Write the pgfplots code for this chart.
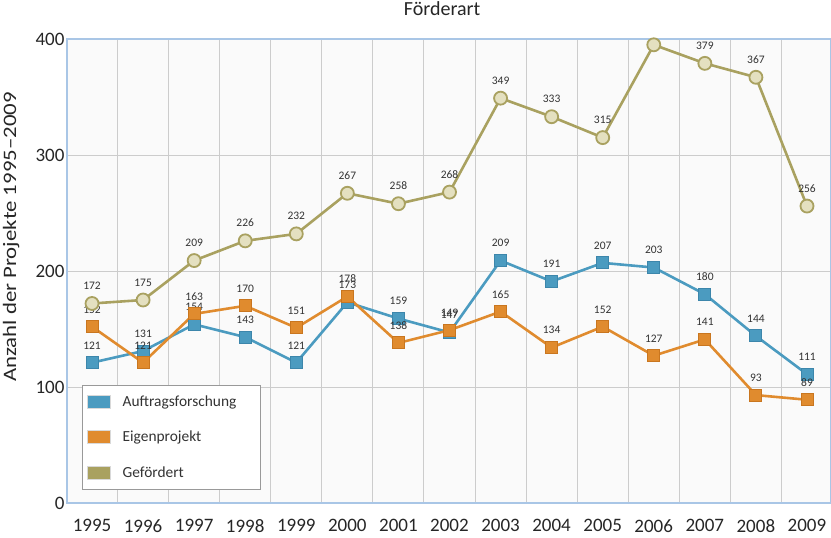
\documentclass[border=0pt]{standalone}
\usepackage{fontspec}
\setmainfont{Carlito}
\usepackage{graphicx}
\usepackage{pgfplots}
\pgfplotsset{compat=1.18}

\definecolor{auftrag}{HTML}{4B9BC0}
\definecolor{auftragdk}{HTML}{3C86AB}
\definecolor{eigen}{HTML}{E08B2E}
\definecolor{eigendk}{HTML}{C9761F}
\definecolor{gefoerd}{HTML}{A9A160}
\definecolor{gefoerdlt}{HTML}{E4E0C0}
\definecolor{frameblue}{HTML}{A9C6E6}

\begin{document}
\begin{tikzpicture}
\begin{axis}[
  name=ax,
  scale only axis,
  width=764pt, height=464pt,
  xmin=1994.51, xmax=2009.47,
  ymin=0, ymax=400,
  xtick={1995,...,2009},
  minor xtick={1995.5,1996.5,...,2008.5},
  ytick={0,100,...,400},
  xticklabel style={/pgf/number format/1000 sep=, yshift=-13pt},
  yticklabel style={xshift=1pt},
  ticklabel style={font=\fontsize{19}{22}\selectfont, text=black!85},
  /pgf/number format/assume math mode=true,
  major tick length=0pt, minor tick length=0pt,
  xminorgrids=true, ymajorgrids=true,
  grid style={color=black!20, line width=0.9pt},
  minor grid style={color=black!20, line width=0.9pt},
  axis line style={color=frameblue, line width=1.3pt},
  axis background/.style={fill=black!2},
  title={Förderart},
  title style={at={(axis description cs:0.491,1)}, anchor=base, yshift=17pt,
    font=\fontsize{20}{22}\selectfont, text=black!85},
  ylabel={\scalebox{1.2}[1]{Anzahl der Projekte 1995–2009}},
  ylabel style={at={(axis description cs:-0.073,0.573)}, anchor=center,
    font=\fontsize{19}{22}\selectfont, text=black!85},
  nodes near coords,
  nodes near coords style={font=\fontsize{11.5}{12}\selectfont, text=black!80,
    anchor=south, inner sep=0pt, yshift=13pt},
  legend style={at={(axis description cs:0.02,0.028)}, anchor=south west,
    draw=black!40, fill=white, line width=0.8pt,
    font=\fontsize{15.4}{17}\selectfont, text=black!80,
    row sep=19pt, inner xsep=4pt, inner ysep=9pt,
    /tikz/every odd column/.append style={column sep=10pt}},
  legend cell align=left,
]
\addplot[color=auftrag, line width=2.6pt, mark=square*, mark size=6pt,
  mark options={fill=auftrag, draw=auftragdk, line width=1pt},
  legend image code/.code={\draw[draw=black!15, fill=auftrag, line width=1pt] (0pt,-6.5pt) rectangle (23pt,6.5pt);}]
coordinates {
  (1995,121) (1996,131) (1997,154) (1998,143) (1999,121)
  (2000,173) (2001,159) (2002,147) (2003,209) (2004,191)
  (2005,207) (2006,203) (2007,180) (2008,144) (2009,111)
};
\addlegendentry{\makebox[132pt][l]{Auftragsforschung}}

\addplot[color=eigen, line width=2.6pt, mark=square*, mark size=6pt,
  mark options={fill=eigen, draw=eigendk, line width=1pt},
  legend image code/.code={\draw[draw=black!15, fill=eigen, line width=1pt] (0pt,-6.5pt) rectangle (23pt,6.5pt);}]
coordinates {
  (1995,152) (1996,121) (1997,163) (1998,170) (1999,151)
  (2000,178) (2001,138) (2002,149) (2003,165) (2004,134)
  (2005,152) (2006,127) (2007,141) (2008,93) (2009,89)
};
\addlegendentry{Eigenprojekt}

\addplot[color=gefoerd, line width=2.6pt, mark=*, mark size=6.5pt,
  mark options={fill=gefoerdlt, draw=gefoerd, line width=1.8pt},
  point meta=explicit symbolic,
  legend image code/.code={\draw[draw=black!15, fill=gefoerd, line width=1pt] (0pt,-6.5pt) rectangle (23pt,6.5pt);}]
coordinates {
  (1995,172)[172] (1996,175)[175] (1997,209)[209] (1998,226)[226] (1999,232)[232]
  (2000,267)[267] (2001,258)[258] (2002,268)[268] (2003,349)[349] (2004,333)[333]
  (2005,315)[315] (2006,395)[] (2007,379)[379] (2008,367)[367] (2009,256)[256]
};
\addlegendentry{Gefördert}
\end{axis}
\pgfresetboundingbox
\useasboundingbox ([xshift=-67pt, yshift=-35pt]ax.south west) rectangle ([yshift=39pt]ax.north east);
\end{tikzpicture}
\end{document}
